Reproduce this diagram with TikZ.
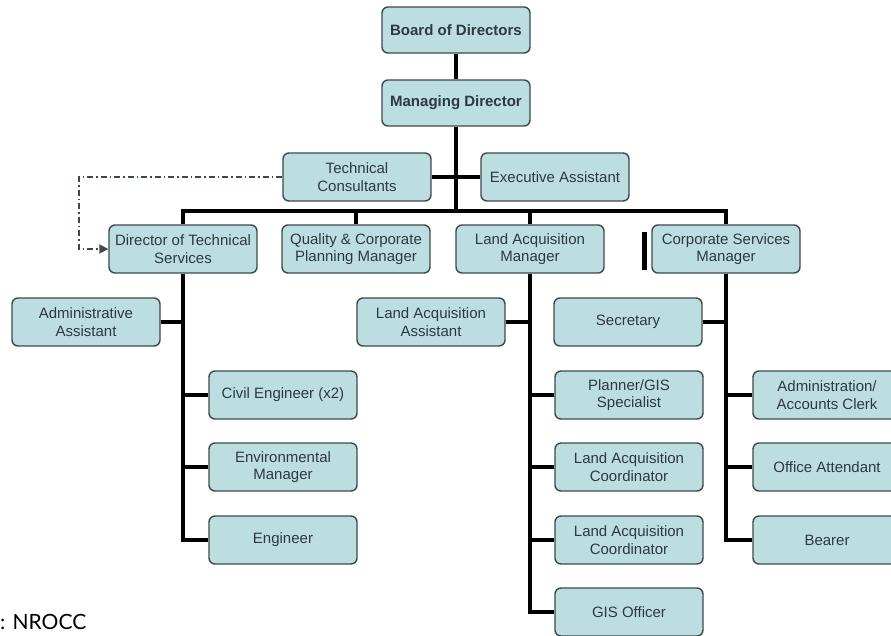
\documentclass[tikz,border=0pt]{standalone}
\usepackage{fontspec}
\setmainfont{Liberation Sans}
\newfontfamily\capfont{Lato}
\usepackage{tikz}
\usetikzlibrary{arrows.meta}
\definecolor{boxfill}{RGB}{189,222,225}
\definecolor{boxline}{RGB}{60,74,76}
\definecolor{boxtext}{RGB}{44,58,62}

\begin{document}
\begin{tikzpicture}[x=1pt, y=-1pt,
	role/.style = {draw=boxline, line width=1.4pt, fill=boxfill, rounded corners=6pt, minimum width=148pt, minimum height=48pt, align=center, inner sep=1pt, text=boxtext, font=\fontsize{15}{17.5}\selectfont},
	head/.style = {role, minimum height=46pt, font=\fontsize{15}{17.5}\selectfont\bfseries},
	link/.style = {line width=3.2pt, black},
	consult/.style = {line width=1.8pt, boxline, dash pattern=on 6pt off 3pt on 1.5pt off 3pt, -{Triangle[length=9pt, width=9pt]}}]
	\useasboundingbox (0,0) rectangle (891,635);

	\node[head] (bod) at (456, 30) {Board of Directors};
	\node[head] (md) at (456, 103) {Managing Director};
	\node[role] (tc) at (357, 177) {Technical\\Consultants};
	\node[role] (ea) at (555, 177) {Executive Assistant};

	\node[role] (dts) at (183, 249) {Director of Technical\\Services};
	\node[role] (qcpm) at (356, 249) {Quality \& Corporate\\Planning Manager};
	\node[role] (lam) at (530, 249) {Land Acquisition\\Manager};
	\node[role] (csm) at (726, 249) {Corporate Services\\Manager};

	\node[role] (aa) at (86, 322) {Administrative\\Assistant};
	\node[role] (ce) at (283, 395) {Civil Engineer (x2)};
	\node[role] (em) at (283, 467) {Environmental\\Manager};
	\node[role] (eng) at (283, 540) {Engineer};

	\node[role] (laa) at (431, 322) {Land Acquisition\\Assistant};
	\node[role] (sec) at (628, 322) {Secretary};
	\node[role] (pgs) at (629, 395) {Planner/GIS\\Specialist};
	\node[role] (lac1) at (629, 467) {Land Acquisition\\Coordinator};
	\node[role] (lac2) at (629, 540) {Land Acquisition\\Coordinator};
	\node[role] (gis) at (629, 612) {GIS Officer};

	\node[role] (aac) at (827, 395) {Administration/\\Accounts Clerk};
	\node[role] (oa) at (827, 467) {Office Attendant};
	\node[role] (bear) at (827, 540) {Bearer};

	\node[anchor=west, inner sep=0pt, font=\capfont\fontsize{21}{24}\selectfont] (src) at (0, 622) {: NROCC};

	\coordinate (bus) at (456, 211);
	\coordinate (loop) at (79, 177);

	\draw[link] (bod) -- (md);
	\draw[link] (md.south) -- (bus);
	\draw[link] (tc) -- (ea);
	\draw[link] (dts.north) |- (bus) -| (csm.north);
	\draw[link] (qcpm.north) -- (qcpm.north |- bus);
	\draw[link] (lam.north) -- (lam.north |- bus);

	\draw[link] (dts.south) |- (eng.west);
	\draw[link] (aa.east) -- (aa.east -| dts.south);
	\draw[link] (ce.west) -- (ce.west -| dts.south);
	\draw[link] (em.west) -- (em.west -| dts.south);

	\draw[link] (lam.south) |- (gis.west);
	\draw[link] (laa.east) -- (laa.east -| lam.south);
	\draw[link] (pgs.west) -- (pgs.west -| lam.south);
	\draw[link] (lac1.west) -- (lac1.west -| lam.south);
	\draw[link] (lac2.west) -- (lac2.west -| lam.south);

	\draw[link] (csm.south) |- (bear.west);
	\draw[link] (sec.east) -- (sec.east -| csm.south);
	\draw[link] (aac.west) -- (aac.west -| csm.south);
	\draw[link] (oa.west) -- (oa.west -| csm.south);

	\draw[consult] (tc.west) -- (loop) |- (dts.west);
	\draw[line width=5pt] (644, 232) -- (644, 270);
\end{tikzpicture}
\end{document}
